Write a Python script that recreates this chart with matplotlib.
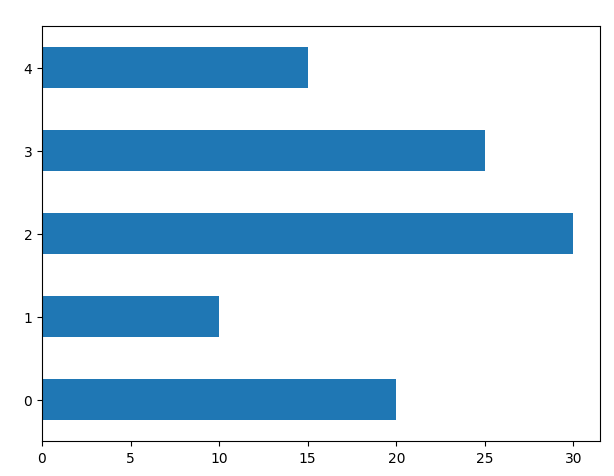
import matplotlib
matplotlib.use("Agg")
import matplotlib.pyplot as plt

categories = [0, 1, 2, 3, 4]
values = [20, 10, 30, 25, 15]

fig = plt.figure(figsize=(6.14, 4.77), dpi=100)
ax = fig.add_axes([42/614, 1-442/477, (600-42)/614, (442-27)/477])
ax.barh(categories, values, height=0.5, color="#1f77b4")
ax.set_yticks(categories)
ax.set_yticklabels([str(c) for c in categories])
ax.set_ylim(-0.5, 4.5)
fig.savefig("out.png", dpi=100)
